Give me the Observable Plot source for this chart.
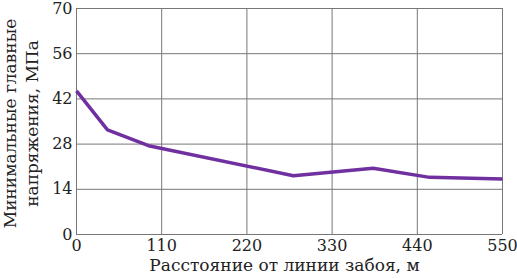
<!DOCTYPE html>
<html>
<head>
<meta charset="utf-8">
<script src="https://cdn.jsdelivr.net/npm/d3@7"></script>
<script src="https://cdn.jsdelivr.net/npm/@observablehq/plot@0.6"></script>
<style>
  html, body { margin: 0; padding: 0; background: #fff; }
  #chart svg { display: block; }
</style>
</head>
<body>
<div id="chart"></div>
<script>
const distance = [0, 40, 93, 280, 383, 456, 550];
const stress = [44.5, 32.4, 27.5, 18.2, 20.5, 17.7, 17.2];
const xTicks = [0, 110, 220, 330, 440, 550];
const yTicks = [0, 14, 28, 42, 56, 70];
const xLabel = "Расстояние от линии забоя, м";
const yLabel = "Минимальные главные\nнапряжения, МПа";

const data = distance.map((d, i) => ({x: d, y: stress[i]}));
const font = "'DejaVu Serif', serif";

const chart = Plot.plot({
  width: 517,
  height: 279,
  marginLeft: 76,
  marginRight: 15,
  marginTop: 8,
  marginBottom: 45,
  style: {fontFamily: font, fontSize: "16px", color: "#222", background: "#fff"},
  x: {domain: [0, 550]},
  y: {domain: [0, 70]},
  marks: [
    Plot.gridX(xTicks, {stroke: "#777", strokeOpacity: 1, strokeWidth: 1}),
    Plot.gridY(yTicks, {stroke: "#777", strokeOpacity: 1, strokeWidth: 1}),
    Plot.axisX(xTicks, {tickSize: 0, tickPadding: 5, label: null, fontSize: 16}),
    Plot.axisY(yTicks, {tickSize: 0, tickPadding: 4, label: null, fontSize: 16}),
    Plot.line(data, {x: "x", y: "y", stroke: "#7030A0", strokeWidth: 3.5, strokeLinejoin: "round", strokeLinecap: "butt"}),
    Plot.text([xLabel], {frameAnchor: "bottom", textAnchor: "middle", dx: -5, dy: 36, fontSize: 17, fill: "#222"}),
    Plot.text([yLabel], {frameAnchor: "left", textAnchor: "middle", rotate: -90, dx: -57, dy: 2, fontSize: 17, lineHeight: 1.3, fill: "#222"})
  ]
});
document.getElementById("chart").appendChild(chart);
</script>
</body>
</html>
